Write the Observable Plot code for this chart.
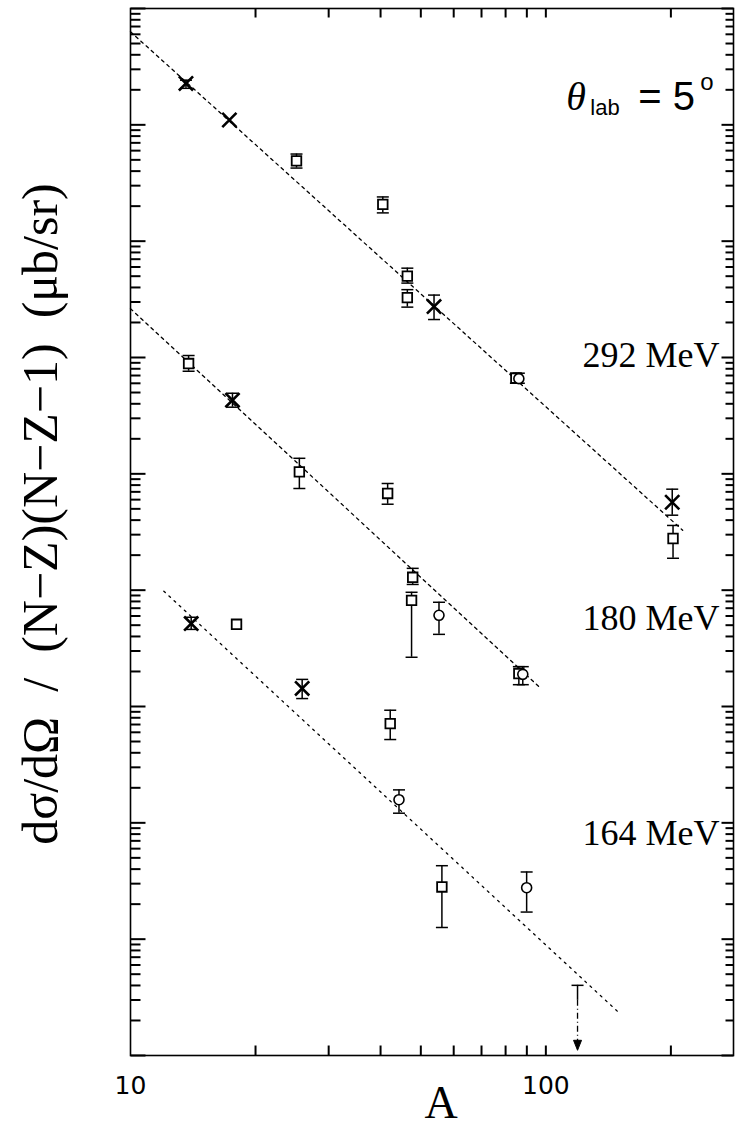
<!DOCTYPE html>
<html><head><meta charset="utf-8">
<script src="https://cdn.jsdelivr.net/npm/d3@7"></script>
<script src="https://cdn.jsdelivr.net/npm/@observablehq/plot@0.6"></script>
<style>html,body{margin:0;padding:0;background:#fff;} svg{display:block}</style>
</head><body><div id="chart"></div>
<script>
// ---- 292 MeV ----
const A292   = [13.6, 17.3, 25.1, 40.5, 46.4, 46.4, 53.8, 84.7, 86.1, 201.5, 202.4];
const v292   = [2.27e8, 1.10e8, 4.90e7, 2.07e7, 5.00e6, 3.27e6, 2.74e6, 6.64e5, 6.58e5, 5.70e4, 2.78e4];
const lo292  = [2.06e8, null, 4.25e7, 1.75e7, 4.36e6, 2.71e6, 2.12e6, 6.01e5, 6.01e5, 4.41e4, 1.88e4];
const hi292  = [2.42e8, null, 5.61e7, 2.40e7, 5.86e6, 3.83e6, 3.44e6, 7.33e5, 7.33e5, 7.38e4, 3.60e4];
const sym292 = ["x", "x", "s", "s", "s", "s", "x", "s", "o", "x", "s"];
// ---- 180 MeV ----
const A180   = [13.8, 17.6, 25.5, 41.6, 47.8, 47.5, 55.3, 86.1, 88.0];
const v180   = [8.87e5, 4.30e5, 1.04e5, 6.78e4, 1.29e4, 8.18e3, 6.08e3, 1.92e3, 1.89e3];
const lo180  = [7.62e5, 3.74e5, 7.48e4, 5.48e4, 1.12e4, 2.65e3, 4.17e3, 1.54e3, 1.54e3];
const hi180  = [1.04e6, 4.93e5, 1.36e5, 8.26e4, 1.54e4, 9.59e3, 7.87e3, 2.20e3, 2.20e3];
const sym180 = ["s", "x", "s", "s", "s", "s", "o", "s", "o"];
// ---- 164 MeV ----
const A164   = [14.0, 18.0, 25.9, 42.2, 44.3, 56.2, 89.9];
const v164   = [5.16e3, 5.09e3, 1.43e3, 713, 158, 28.1, 27.7];
const lo164  = [4.60e3, null, 1.17e3, 520, 121, 12.6, 17.1];
const hi164  = [5.85e3, null, 1.71e3, 929, 192, 42.8, 37.8];
const sym164 = ["x", "s", "x", "s", "o", "s", "o"];
// upper limit (164 MeV)
const ulA = [119.2];
const ulTop = [4.01];
const ulMid = [2.98];
const ulBottom = [1.2];
// A^-10/3 lines
const fitSeries = ["292", "292", "180", "180", "164", "164"];
const fitA = [10, 213.5, 10, 96.4, 12.03, 151.6];
const fitV = [6.31e8, 3.27e4, 2.63e6, 1472, 9795, 2.25];
// energy labels
const labelText = ["292 MeV", "180 MeV", "164 MeV"];
const labelA = [262, 262, 262];
const labelV = [1.05e6, 5.7e3, 81];
// angle label anchor
const thetaA = [112];
const thetaV = [1.73e8];
// axes
const xDomain = [10, 283];
const yDomain = [1, 1e9];
const xTicks = [20, 30, 40, 50, 60, 70, 80, 90, 100, 200];
const xTickLabels = [10, 100];
const yDecades = [1, 1e1, 1e2, 1e3, 1e4, 1e5, 1e6, 1e7, 1e8, 1e9];
const yMinorSteps = [2, 3, 4, 5, 6, 7, 8, 9];
const yTitle = "dσ/dΩ\u2002/\u2002(N−Z)(N−Z−1)\u2002(μb/sr)";
const xTitle = "A";

const yMinor = yDecades.slice(0, -1).flatMap(d => yMinorSteps.map(m => m * d));

// layout
const W = 739, H = 1136, mL = 130, mR = 6, mT = 8, mB = 81;
const pxPerDecX = (W - mL - mR) / Math.log10(xDomain[1] / xDomain[0]);
const pxPerDecY = (H - mT - mB) / Math.log10(yDomain[1] / yDomain[0]);
const inX = (x0, px) => x0 * Math.pow(10, px / pxPerDecX);
const inY = (y0, px) => y0 * Math.pow(10, px / pxPerDecY);

function rows(series, A, v, lo, hi, sym) {
  return A.map((a, i) => ({series, A: a, v: v[i], lo: lo[i], hi: hi[i], sym: sym[i]}));
}
const pts = [
  ...rows("292", A292, v292, lo292, hi292, sym292),
  ...rows("180", A180, v180, lo180, hi180, sym180),
  ...rows("164", A164, v164, lo164, hi164, sym164)
];
const errs = pts.filter(d => d.lo != null);
const caps = errs.flatMap(d => [{A: d.A, v: d.lo}, {A: d.A, v: d.hi}]);
const fits = fitA.map((a, i) => ({series: fitSeries[i], A: a, v: fitV[i]}));
const labels = labelText.map((t, i) => ({t, A: labelA[i], v: labelV[i]}));
const ul = ulA.map((a, i) => ({A: a, top: ulTop[i], mid: ulMid[i], bottom: ulBottom[i]}));
const theta = thetaA.map((a, i) => ({A: a, v: thetaV[i]}));

// tick rows (inward ticks)
const ticksY = [
  ...yDecades.map(v => ({v, a1: xDomain[0], a2: inX(xDomain[0], 15)})),
  ...yMinor.map(v => ({v, a1: xDomain[0], a2: inX(xDomain[0], 10)})),
  ...yDecades.map(v => ({v, a1: inX(xDomain[1], -12), a2: xDomain[1]})),
  ...yMinor.map(v => ({v, a1: inX(xDomain[1], -8), a2: xDomain[1]}))
];
const ticksX = [
  ...xTicks.map(a => ({a, v1: yDomain[0], v2: inY(yDomain[0], 10)})),
  ...xTicks.map(a => ({a, v1: inY(yDomain[1], -9), v2: yDomain[1]}))
];

const capSymbol = {draw(ctx) { ctx.moveTo(-6, 0); ctx.lineTo(6, 0); }};
const downTri = {draw(ctx) { ctx.moveTo(-4, -6); ctx.lineTo(4, -6); ctx.lineTo(0, 4); ctx.closePath(); }};
const serif = "'Liberation Serif', 'DejaVu Serif', serif";
const sans = "'Liberation Sans', 'DejaVu Sans', sans-serif";

const chart = Plot.plot({
  width: W, height: H,
  marginLeft: mL, marginRight: mR, marginTop: mT, marginBottom: mB,
  x: {type: "log", domain: xDomain, axis: null},
  y: {type: "log", domain: yDomain, axis: null},
  style: {fontFamily: serif, color: "black", background: "white"},
  marks: [
    Plot.link(ticksY, {x1: "a1", x2: "a2", y1: "v", y2: "v", stroke: "black", strokeWidth: 2}),
    Plot.link(ticksX, {x1: "a", x2: "a", y1: "v1", y2: "v2", stroke: "black", strokeWidth: 2}),
    Plot.frame({stroke: "black", strokeWidth: 1.6}),
    // axis tick labels and titles
    Plot.text(xTickLabels, {x: d => d, frameAnchor: "bottom", text: d => String(d), dy: 30, fontSize: 25, fontFamily: "'DejaVu Sans', sans-serif", lineAnchor: "middle"}),
    Plot.text([xTitle], {frameAnchor: "bottom", text: d => d, textAnchor: "middle", dx: 9, dy: 62, fontSize: 46, fontFamily: serif}),
    Plot.text([yTitle], {frameAnchor: "left", text: d => d, textAnchor: "middle", lineAnchor: "middle", dx: -90, dy: -18, rotate: -90, fontSize: 50, fontFamily: serif}),
    // fit lines
    Plot.line(fits.filter(d => d.series === "292"), {x: "A", y: "v", stroke: "black", strokeWidth: 1.3, strokeDasharray: "3,4"}),
    Plot.line(fits.filter(d => d.series === "180"), {x: "A", y: "v", stroke: "black", strokeWidth: 1.3, strokeDasharray: "3,4"}),
    Plot.line(fits.filter(d => d.series === "164"), {x: "A", y: "v", stroke: "black", strokeWidth: 1.3, strokeDasharray: "2,5"}),
    // error bars
    Plot.ruleX(errs, {x: "A", y1: "lo", y2: "hi", stroke: "black", strokeWidth: 1.5}),
    Plot.dot(caps, {x: "A", y: "v", symbol: capSymbol, stroke: "black", strokeWidth: 1.5, fill: "none"}),
    // upper limit
    Plot.ruleX(ul, {x: "A", y1: "top", y2: "mid", stroke: "black", strokeWidth: 1.5}),
    Plot.ruleX(ul, {x: "A", y1: "mid", y2: "bottom", stroke: "black", strokeWidth: 1.3, strokeDasharray: "6,3,1,3"}),
    Plot.dot(ul, {x: "A", y: "top", symbol: capSymbol, stroke: "black", strokeWidth: 1.5}),
    Plot.dot(ul, {x: "A", y: "bottom", symbol: downTri, fill: "black", stroke: "black", strokeWidth: 1}),
    // markers
    Plot.dot(pts.filter(d => d.sym === "s"), {x: "A", y: "v", symbol: "square", r: 5.4, fill: "white", stroke: "black", strokeWidth: 1.8}),
    Plot.dot(pts.filter(d => d.sym === "o"), {x: "A", y: "v", symbol: "circle", r: 5, fill: "white", stroke: "black", strokeWidth: 1.6}),
    Plot.dot(pts.filter(d => d.sym === "x"), {x: "A", y: "v", symbol: "times", r: 6.5, stroke: "black", strokeWidth: 2.6}),
    // labels
    Plot.text(labels, {x: "A", y: "v", text: "t", textAnchor: "end", fontSize: 36, fontFamily: serif}),
    Plot.text(theta, {x: "A", y: "v", text: () => "θ", textAnchor: "start", fontSize: 40, fontStyle: "italic", fontFamily: serif}),
    Plot.text(theta, {x: "A", y: "v", text: () => "lab", textAnchor: "start", dx: 24, dy: 11, fontSize: 22, fontFamily: sans}),
    Plot.text(theta, {x: "A", y: "v", text: () => "= 5", textAnchor: "start", dx: 72, fontSize: 40, fontFamily: sans}),
    Plot.text(theta, {x: "A", y: "v", text: () => "o", textAnchor: "start", dx: 134, dy: -15, fontSize: 24, fontFamily: sans})
  ]
});
document.getElementById("chart").appendChild(chart);
</script>
</body></html>
